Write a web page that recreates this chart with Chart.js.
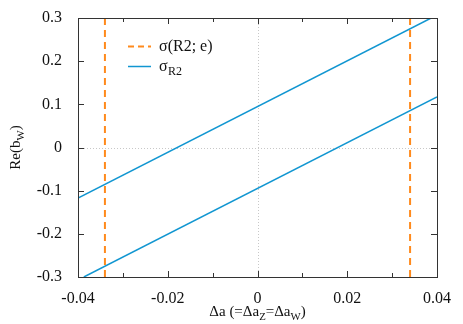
<!DOCTYPE html>
<html>
<head>
<meta charset="utf-8">
<script src="https://cdn.jsdelivr.net/npm/chart.js@4"></script>
<style>
  html, body { margin: 0; padding: 0; background: #fff; }
  #wrap { width: 463px; height: 324px; position: relative; }
  #wrap canvas { position: relative; z-index: 1; }
  .warm { position: absolute; left: 200px; top: 150px; z-index: 0; color: #fff;
          font-family: "Liberation Serif"; font-size: 16px; }
</style>
</head>
<body>
<div id="wrap"><span class="warm">σ Δa 0.3 Re</span><canvas id="chart"></canvas></div>
<script>
// 축 범위와 눈금
const xMin = -0.04, xMax = 0.04;
const yMin = -0.3, yMax = 0.3;
const xMajorTicks = [-0.04, -0.02, 0, 0.02, 0.04];
const xMinorTicks = [-0.03, -0.01, 0.01, 0.03];
const yTicks = [-0.3, -0.2, -0.1, 0, 0.1, 0.2, 0.3];

// σ_R2 두 직선 (끝점)
const upperX = [-0.04, 0.0387];
const upperY = [-0.117, 0.3];
const lowerX = [-0.0387, 0.04];
const lowerY = [-0.3, 0.117];

// σ(R2; e) 세로 점선 위치
const edgeX = [-0.034, 0.034];

const orange = '#ff8a1c';
const blue = '#1196d1';
const serifFont = '"Liberation Serif", "Times New Roman", serif';

function toPoints(xs, ys) {
	return xs.map((x, i) => ({ x: x, y: ys[i] }));
}

// 아래첨자가 섞인 텍스트 그리기
function drawParts(ctx, parts, x, y, size) {
	let total = 0;
	parts.forEach(p => {
		ctx.font = (p[1] ? size * 0.72 : size) + 'px ' + serifFont;
		total += ctx.measureText(p[0]).width;
	});
	let cx = x - total / 2;
	parts.forEach(p => {
		ctx.font = (p[1] ? size * 0.72 : size) + 'px ' + serifFont;
		ctx.fillText(p[0], cx, y + (p[1] ? 4 : 0));
		cx += ctx.measureText(p[0]).width;
	});
}

// 축 테두리, 안쪽 눈금, 0 점선, 범례, 축 제목
const framePlugin = {
	id: 'frame',
	beforeDatasetsDraw(chart) {
		const { ctx, chartArea: a, scales: { x, y } } = chart;
		ctx.save();
		ctx.strokeStyle = '#c8c8c8';
		ctx.lineWidth = 1;
		ctx.setLineDash([1, 2]);
		const x0 = Math.round(x.getPixelForValue(0)) + 0.5;
		const y0 = Math.round(y.getPixelForValue(0)) + 0.5;
		ctx.beginPath();
		ctx.moveTo(x0, a.top); ctx.lineTo(x0, a.bottom);
		ctx.moveTo(a.left, y0); ctx.lineTo(a.right, y0);
		ctx.stroke();
		ctx.restore();
	},
	afterDatasetsDraw(chart) {
		const { ctx, chartArea: a, scales: { x, y } } = chart;
		ctx.save();
		ctx.strokeStyle = '#333';
		ctx.lineWidth = 1;
		ctx.beginPath();
		xMajorTicks.concat(xMinorTicks).forEach(v => {
			const px = Math.round(x.getPixelForValue(v)) + 0.5;
			const len = xMajorTicks.includes(v) ? 6 : 4;
			ctx.moveTo(px, a.bottom); ctx.lineTo(px, a.bottom - len);
			ctx.moveTo(px, a.top); ctx.lineTo(px, a.top + len);
		});
		yTicks.forEach(v => {
			const py = Math.round(y.getPixelForValue(v)) + 0.5;
			ctx.moveTo(a.left, py); ctx.lineTo(a.left + 6, py);
			ctx.moveTo(a.right, py); ctx.lineTo(a.right - 6, py);
		});
		ctx.stroke();
		ctx.strokeRect(Math.round(a.left) + 0.5, Math.round(a.top) + 0.5,
			Math.round(a.right - a.left), Math.round(a.bottom - a.top));

		// 범례
		ctx.lineWidth = 2;
		ctx.strokeStyle = orange;
		ctx.setLineDash([6, 4]);
		ctx.beginPath(); ctx.moveTo(128, 46.5); ctx.lineTo(151, 46.5); ctx.stroke();
		ctx.setLineDash([]);
		ctx.lineWidth = 1.5;
		ctx.strokeStyle = blue;
		ctx.beginPath(); ctx.moveTo(128, 66.5); ctx.lineTo(151, 66.5); ctx.stroke();

		ctx.fillStyle = '#111';
		ctx.textBaseline = 'alphabetic';
		ctx.textAlign = 'left';
		ctx.font = '16px ' + serifFont;
		ctx.fillText('σ(R2; e)', 159, 51);
		ctx.fillText('σ', 159, 71);
		ctx.font = '12px ' + serifFont;
		ctx.fillText('R2', 168, 75);

		// x 축 제목
		drawParts(ctx, [['Δa (=Δa', 0], ['Z', 1], ['=Δa', 0], ['W', 1], [')', 0]],
			(a.left + a.right) / 2, 316, 15);

		// y 축 제목
		ctx.translate(20, (a.top + a.bottom) / 2);
		ctx.rotate(-Math.PI / 2);
		drawParts(ctx, [['Re(b', 0], ['W', 1], [')', 0]], 0, 0, 15);
		ctx.restore();
	}
};

const chart = new Chart(document.getElementById('chart'), {
	type: 'scatter',
	data: {
		datasets: [{
			label: 'σ(R2; e) left',
			data: toPoints([edgeX[0], edgeX[0]], [yMin, yMax]),
			borderColor: orange,
			borderWidth: 2,
			borderDash: [7, 5],
			showLine: true,
			pointRadius: 0
		}, {
			label: 'σ(R2; e) right',
			data: toPoints([edgeX[1], edgeX[1]], [yMin, yMax]),
			borderColor: orange,
			borderWidth: 2,
			borderDash: [7, 5],
			showLine: true,
			pointRadius: 0
		}, {
			label: 'σR2 upper',
			data: toPoints(upperX, upperY),
			borderColor: blue,
			borderWidth: 1.5,
			showLine: true,
			pointRadius: 0
		}, {
			label: 'σR2 lower',
			data: toPoints(lowerX, lowerY),
			borderColor: blue,
			borderWidth: 1.5,
			showLine: true,
			pointRadius: 0
		}]
	},
	options: {
		responsive: true,
		maintainAspectRatio: false,
		animation: false,
		layout: { padding: { left: 0, right: 26, top: 18, bottom: 0 } },
		plugins: { legend: { display: false }, tooltip: { enabled: false } },
		scales: {
			x: {
				type: 'linear',
				min: xMin,
				max: xMax,
				afterFit(s) { s.height = 47; },
				afterBuildTicks(s) { s.ticks = xMajorTicks.map(v => ({ value: v })); },
				grid: { display: false },
				border: { display: false },
				ticks: {
					color: '#111',
					padding: 4,
					font: { family: serifFont, size: 16 },
					callback: v => (v === 0 ? '0' : v.toFixed(2))
				}
			},
			y: {
				type: 'linear',
				min: yMin,
				max: yMax,
				afterFit(s) { s.width = 78; },
				afterBuildTicks(s) { s.ticks = yTicks.map(v => ({ value: v })); },
				grid: { display: false },
				border: { display: false },
				ticks: {
					color: '#111',
					padding: 8,
					font: { family: serifFont, size: 16 },
					callback: v => (Math.abs(v) < 1e-9 ? '0' : v.toFixed(1))
				}
			}
		}
	},
	plugins: [framePlugin]
});

// 폰트가 준비된 뒤 다시 그리기
window.addEventListener('load', () => chart.update());
requestAnimationFrame(() => chart.update());
</script>
</body>
</html>
